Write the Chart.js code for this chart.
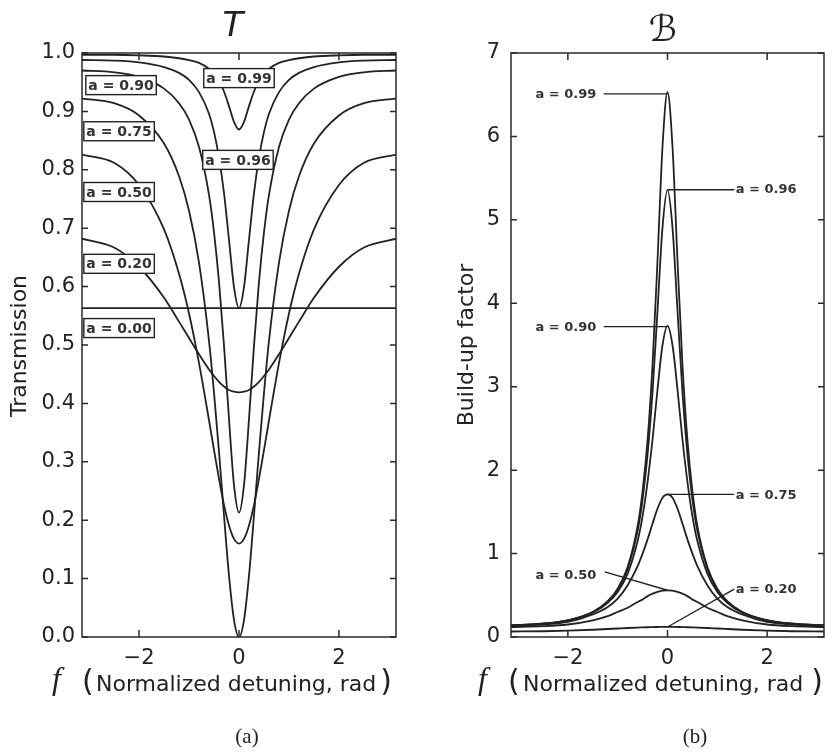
<!DOCTYPE html>
<html>
<head>
<meta charset="utf-8">
<script src="https://cdn.jsdelivr.net/npm/chart.js@4/dist/chart.umd.min.js"></script>
<style>
  body { margin: 0; background: #fff; }
  #wrap { position: relative; width: 825px; height: 752px; overflow: hidden; }
  canvas { position: absolute; top: 0; }
</style>
</head>
<body>
<div id="wrap">
  <canvas id="cT" width="412" height="752" style="left:0"></canvas>
  <canvas id="cB" width="413" height="752" style="left:412px"></canvas>
</div>
<script>
// ---------------- data ----------------
const detuning = [-3.1416, -2.5, -2.0, -1.5, -1.2, -1.0, -0.8, -0.6, -0.5, -0.4, -0.3, -0.2, -0.1, 0,
                  0.1, 0.2, 0.3, 0.4, 0.5, 0.6, 0.8, 1.0, 1.2, 1.5, 2.0, 2.5, 3.1416];
const xTickValues = [-2, 0, 2];
const lossValues = ['0.99', '0.96', '0.90', '0.75', '0.50', '0.20', '0.00'];

// Transmission T
const trans099 = [0.997,0.997,0.996,0.994,0.991,0.988,0.983,0.973,0.965,0.953,0.934,0.909,0.882,0.869,0.882,0.909,0.934,0.953,0.965,0.973,0.983,0.988,0.991,0.994,0.996,0.997,0.997];
const trans096 = [0.988,0.987,0.984,0.976,0.966,0.954,0.933,0.896,0.865,0.821,0.760,0.680,0.599,0.563,0.599,0.680,0.760,0.821,0.865,0.896,0.933,0.954,0.966,0.976,0.984,0.987,0.988];
const trans090 = [0.970,0.967,0.959,0.939,0.914,0.886,0.839,0.757,0.693,0.608,0.499,0.373,0.260,0.213,0.260,0.373,0.499,0.608,0.693,0.757,0.839,0.886,0.914,0.939,0.959,0.967,0.970];
const trans075 = [0.922,0.914,0.893,0.845,0.789,0.730,0.641,0.507,0.418,0.317,0.208,0.105,0.029,0.000,0.029,0.105,0.208,0.317,0.418,0.507,0.641,0.730,0.789,0.845,0.893,0.914,0.922];
const trans050 = [0.826,0.812,0.774,0.698,0.622,0.554,0.469,0.371,0.320,0.271,0.226,0.191,0.168,0.160,0.168,0.191,0.226,0.271,0.320,0.371,0.469,0.554,0.622,0.698,0.774,0.812,0.826];
const trans020 = [0.682,0.667,0.634,0.581,0.540,0.512,0.484,0.458,0.447,0.437,0.429,0.423,0.420,0.419,0.420,0.423,0.429,0.437,0.447,0.458,0.484,0.512,0.540,0.581,0.634,0.667,0.682];
const trans000 = [0.563,0.563,0.563,0.563,0.563,0.563,0.563,0.563,0.563,0.563,0.563,0.563,0.563,0.563,0.563,0.563,0.563,0.563,0.563,0.563,0.563,0.563,0.563,0.563,0.563,0.563,0.563];

// Build-up factor B
const build099 = [0.14,0.16,0.20,0.30,0.43,0.58,0.84,1.33,1.75,2.36,3.27,4.52,5.88,6.53,5.88,4.52,3.27,2.36,1.75,1.33,0.84,0.58,0.43,0.30,0.20,0.16,0.14];
const build096 = [0.14,0.16,0.20,0.30,0.42,0.57,0.82,1.27,1.65,2.19,2.94,3.92,4.91,5.36,4.91,3.92,2.94,2.19,1.65,1.27,0.82,0.57,0.42,0.30,0.20,0.16,0.14];
const build090 = [0.14,0.16,0.20,0.29,0.41,0.54,0.76,1.15,1.45,1.86,2.37,2.97,3.50,3.73,3.50,2.97,2.37,1.86,1.45,1.15,0.76,0.54,0.41,0.29,0.20,0.16,0.14];
const build075 = [0.13,0.15,0.18,0.27,0.36,0.46,0.62,0.85,1.00,1.17,1.36,1.54,1.67,1.71,1.67,1.54,1.36,1.17,1.00,0.85,0.62,0.46,0.36,0.27,0.18,0.15,0.13];
const build050 = [0.12,0.13,0.15,0.20,0.25,0.30,0.35,0.42,0.45,0.49,0.52,0.54,0.555,0.56,0.555,0.54,0.52,0.49,0.45,0.42,0.35,0.30,0.25,0.20,0.15,0.13,0.12];
const build020 = [0.066,0.069,0.076,0.087,0.096,0.102,0.108,0.113,0.115,0.117,0.119,0.120,0.121,0.121,0.121,0.120,0.119,0.117,0.115,0.113,0.108,0.102,0.096,0.087,0.076,0.069,0.066];

// ---------------- presentation ----------------
const xRange = [-3.1416, 3.1416];
const INK = '#222';
const SANS = "'DejaVu Sans', 'Open Sans', sans-serif";
const SERIF = "'Liberation Serif', 'DejaVu Serif', serif";

const toPoints = arr => detuning.map((x, i) => ({ x, y: arr[i] }));
const lineDs = (arr, label) => ({
  label, data: toPoints(arr), borderColor: INK, borderWidth: 1.8,
  pointRadius: 0, fill: false, cubicInterpolationMode: 'monotone'
});
const fmtX = v => (v < 0 ? '\u2212' + Math.abs(v) : String(v));

// label placements (data coordinates)
const boxPlacementT = {
  '0.90': [-2.36, 0.945], '0.75': [-2.40, 0.866], '0.50': [-2.40, 0.762],
  '0.20': [-2.40, 0.639], '0.00': [-2.40, 0.529], '0.99': [0.0, 0.957], '0.96': [-0.02, 0.817]
};
const leaderPlacementB = {
  '0.99': { text: [-2.04, 6.50], from: [-1.28, 6.51], to: [0, 6.51] },
  '0.96': { text: [1.98, 5.36], from: [1.34, 5.36], to: [0, 5.36] },
  '0.90': { text: [-2.04, 3.71], from: [-1.28, 3.72], to: [0, 3.72] },
  '0.75': { text: [1.98, 1.70], from: [1.34, 1.71], to: [0, 1.71] },
  '0.50': { text: [-2.04, 0.74], from: [-1.26, 0.78], to: [0, 0.56] },
  '0.20': { text: [1.98, 0.57], from: [1.34, 0.575], to: [0, 0.12] }
};

const decoPlugin = {
  id: 'deco',
  afterDatasetsDraw(chart, args, o) {
    const { ctx, chartArea: a, scales: { x, y } } = chart;
    ctx.save();
    ctx.strokeStyle = '#2a2a2a';
    ctx.lineWidth = 1.5;
    ctx.strokeRect(a.left, a.top, a.right - a.left, a.bottom - a.top);
    ctx.beginPath();
    x.ticks.forEach(t => {
      const px = x.getPixelForValue(t.value);
      ctx.moveTo(px, a.bottom); ctx.lineTo(px, a.bottom - 7);
      ctx.moveTo(px, a.top); ctx.lineTo(px, a.top + 7);
    });
    y.ticks.forEach(t => {
      const py = y.getPixelForValue(t.value);
      ctx.moveTo(a.left, py); ctx.lineTo(a.left + 6, py);
      ctx.moveTo(a.right, py); ctx.lineTo(a.right - 6, py);
    });
    ctx.stroke();

    // boxed labels
    if (o.boxes) {
      ctx.font = 'bold 14px ' + SANS;
      ctx.textAlign = 'center';
      ctx.textBaseline = 'middle';
      Object.entries(o.boxes).forEach(([val, [dx, dy]]) => {
        const txt = 'a = ' + val;
        const cx = x.getPixelForValue(dx), cy = y.getPixelForValue(dy);
        const w = ctx.measureText(txt).width + 5, h = 19;
        ctx.fillStyle = '#fff';
        ctx.fillRect(cx - w / 2, cy - h / 2, w, h);
        ctx.strokeStyle = INK; ctx.lineWidth = 1.4;
        ctx.strokeRect(cx - w / 2, cy - h / 2, w, h);
        ctx.fillStyle = '#333';
        ctx.fillText(txt, cx, cy + 1);
      });
    }
    // leader labels
    if (o.leaders) {
      ctx.font = 'bold 13px ' + SANS;
      ctx.textAlign = 'center';
      ctx.textBaseline = 'middle';
      Object.entries(o.leaders).forEach(([val, p]) => {
        ctx.strokeStyle = INK; ctx.lineWidth = 1.4;
        ctx.beginPath();
        ctx.moveTo(x.getPixelForValue(p.from[0]), y.getPixelForValue(p.from[1]));
        ctx.lineTo(x.getPixelForValue(p.to[0]), y.getPixelForValue(p.to[1]));
        ctx.stroke();
        ctx.fillStyle = '#333';
        ctx.fillText('a = ' + val, x.getPixelForValue(p.text[0]), y.getPixelForValue(p.text[1]));
      });
    }
    ctx.restore();
  },
  afterDraw(chart, args, o) {
    const { ctx } = chart;
    ctx.save();
    ctx.fillStyle = INK;
    // panel title
    ctx.font = o.title.font;
    ctx.textAlign = 'center';
    ctx.textBaseline = 'alphabetic';
    ctx.fillText(o.title.text, o.title.x, o.title.y);
    // y title
    ctx.save();
    ctx.translate(o.yTitle.x, o.yTitle.y);
    ctx.rotate(-Math.PI / 2);
    ctx.font = '22px ' + SANS;
    ctx.textAlign = 'center';
    ctx.fillText(o.yTitle.text, 0, 0);
    ctx.restore();
    // x title
    const xt = o.xTitle;
    ctx.textAlign = 'left';
    ctx.font = 'italic 32px ' + SERIF;
    ctx.fillText('f', xt.fX, xt.base - 2);
    ctx.font = '30px ' + SANS;
    ctx.fillText('(', xt.parenX, xt.base);
    ctx.font = '22px ' + SANS;
    ctx.fillText(xt.text, xt.textX, xt.base);
    const end = xt.textX + ctx.measureText(xt.text).width;
    ctx.font = '30px ' + SANS;
    ctx.fillText(')', end + xt.gap, xt.base);
    // caption
    ctx.font = '21px ' + SERIF;
    ctx.textAlign = 'center';
    ctx.fillText(o.caption.text, o.caption.x, o.caption.y);
    ctx.restore();
  }
};

function makeScales(yMin, yMax, yStep, yDigits, yWidth, yPad) {
  return {
    x: {
      type: 'linear', min: xRange[0], max: xRange[1],
      afterBuildTicks: s => { s.ticks = xTickValues.map(v => ({ value: v })); },
      afterFit: s => { s.height = 115; },
      grid: { display: false, drawTicks: false },
      border: { display: false },
      ticks: { callback: v => fmtX(v), font: { family: SANS, size: 21 }, color: INK, padding: 9, maxRotation: 0, autoSkip: false }
    },
    y: {
      type: 'linear', min: yMin, max: yMax,
      afterFit: s => { s.width = yWidth; },
      grid: { display: false, drawTicks: false },
      border: { display: false },
      ticks: { stepSize: yStep, callback: v => Number(v).toFixed(yDigits), font: { family: SANS, size: 21 }, color: INK, padding: yPad }
    }
  };
}

const common = {
  responsive: false, animation: false, events: [],
  plugins: { legend: { display: false }, tooltip: { enabled: false } }
};

new Chart(document.getElementById('cT'), {
  type: 'line',
  data: {
    datasets: [
      lineDs(trans099, 'a = 0.99'), lineDs(trans096, 'a = 0.96'), lineDs(trans090, 'a = 0.90'),
      lineDs(trans075, 'a = 0.75'), lineDs(trans050, 'a = 0.50'), lineDs(trans020, 'a = 0.20'),
      lineDs(trans000, 'a = 0.00')
    ]
  },
  options: {
    ...common,
    layout: { padding: { top: 53, left: 0, right: 16, bottom: 0 } },
    scales: makeScales(0, 1, 0.1, 1, 82, 7),
    plugins: {
      ...common.plugins,
      deco: {
        boxes: boxPlacementT,
        title: { text: 'T', font: 'italic 34px ' + SANS, x: 233, y: 36 },
        yTitle: { text: 'Transmission', x: 26, y: 346 },
        xTitle: { text: 'Normalized detuning, rad', fX: 52, parenX: 82, textX: 96, gap: 4, base: 691 },
        caption: { text: '(a)', x: 247, y: 743 }
      }
    }
  },
  plugins: [decoPlugin]
});

new Chart(document.getElementById('cB'), {
  type: 'line',
  data: {
    datasets: [
      lineDs(build099, 'a = 0.99'), lineDs(build096, 'a = 0.96'), lineDs(build090, 'a = 0.90'),
      lineDs(build075, 'a = 0.75'), lineDs(build050, 'a = 0.50'), lineDs(build020, 'a = 0.20')
    ]
  },
  options: {
    ...common,
    layout: { padding: { top: 53, left: 0, right: 1, bottom: 0 } },
    scales: makeScales(0, 7, 1, 0, 99, 11),
    plugins: {
      ...common.plugins,
      deco: {
        leaders: leaderPlacementB,
        title: { text: '\u212C', font: '36px ' + SANS, x: 251, y: 41 },
        yTitle: { text: 'Build-up factor', x: 61, y: 345 },
        xTitle: { text: 'Normalized detuning, rad', fX: 66, parenX: 96, textX: 111, gap: 8, base: 691 },
        caption: { text: '(b)', x: 283, y: 743 }
      }
    }
  },
  plugins: [decoPlugin]
});
</script>
</body>
</html>
